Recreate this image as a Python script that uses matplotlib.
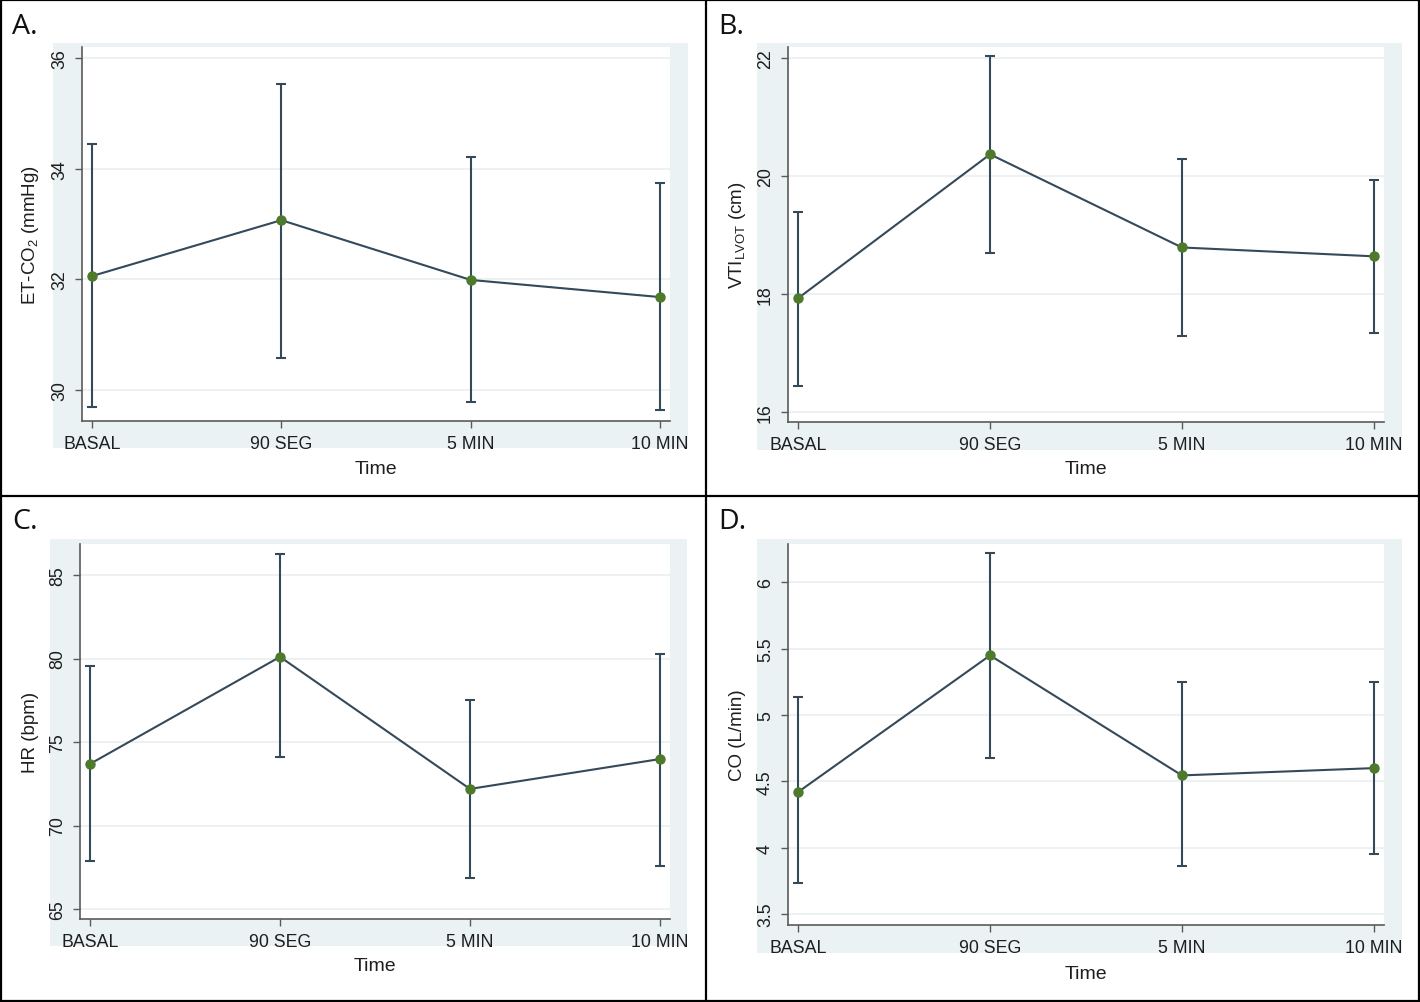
import matplotlib
matplotlib.use("Agg")
import matplotlib.pyplot as plt
from matplotlib.patches import Rectangle
from matplotlib.lines import Line2D

plt.rcParams['font.family'] = ['Liberation Sans', 'DejaVu Sans']
plt.rcParams['mathtext.default'] = 'regular'

# ---------------- data ----------------
times = ["BASAL", "90 SEG", "5 MIN", "10 MIN"]

etco2_mean = [32.06, 33.07, 31.99, 31.68]
etco2_upper = [34.44, 35.53, 34.21, 33.74]
etco2_lower = [29.69, 30.58, 29.78, 29.63]

vti_mean = [17.93, 20.37, 18.79, 18.64]
vti_upper = [19.39, 22.03, 20.29, 19.93]
vti_lower = [16.44, 18.69, 17.29, 17.34]

hr_mean = [73.69, 80.10, 72.19, 73.98]
hr_upper = [79.58, 86.26, 77.50, 80.30]
hr_lower = [67.85, 74.10, 66.83, 67.59]

co_mean = [4.42, 5.45, 4.545, 4.60]
co_upper = [5.14, 6.22, 5.25, 5.25]
co_lower = [3.73, 4.68, 3.86, 3.955]

panel_labels = ["A.", "B.", "C.", "D."]
ylabels = ["ET-CO$_2$ (mmHg)", "VTI$_{LVOT}$ (cm)", "HR (bpm)", "CO (L/min)"]
yticks_list = [[30, 32, 34, 36], [16, 18, 20, 22], [65, 70, 75, 80, 85],
               [3.5, 4, 4.5, 5, 5.5, 6]]
ytick_text = [["30", "32", "34", "36"], ["16", "18", "20", "22"],
              ["65", "70", "75", "80", "85"], ["3.5", "4", "4.5", "5", "5.5", "6"]]
ylims = [(29.44, 36.2), (15.83, 22.19), (64.4, 86.86), (3.417, 6.29)]

means = [etco2_mean, vti_mean, hr_mean, co_mean]
uppers = [etco2_upper, vti_upper, hr_upper, co_upper]
lowers = [etco2_lower, vti_lower, hr_lower, co_lower]

# ---------------- layout (pixels) ----------------
W, H = 1420, 1003
fig = plt.figure(figsize=(W / 100, H / 100), dpi=100)

def fbox(x0, y0, x1, y1):
    return [x0 / W, 1 - y1 / H, (x1 - x0) / W, (y1 - y0) / H]

plot_boxes = [(82, 48, 670, 422), (788, 48, 1384, 423),
              (80, 545, 670, 920), (788, 545, 1384, 926)]
graph_boxes = [(53, 44, 688, 449), (757, 44, 1402, 451),
               (50, 540, 687, 947), (757, 540, 1402, 954)]
label_pos = [(12, 27), (718, 27), (12, 522), (718, 522)]
ylab_x = [31, 737, 31, 737]
xlab_y = [469, 470, 967, 975]

BG = "#EAF2F3"
LINE = "#34495A"
MARK = "#4E7A2C"
AX = "#5A5A5A"
GRID = "#EAEFF0"

for i in range(4):
    gx0, gy0, gx1, gy1 = graph_boxes[i]
    fig.add_artist(Rectangle((gx0 / W, 1 - gy1 / H), (gx1 - gx0) / W, (gy1 - gy0) / H,
                             transform=fig.transFigure, facecolor=BG,
                             edgecolor='none', zorder=-5))
    ax = fig.add_axes(fbox(*plot_boxes[i]))
    ax.set_zorder(1)
    ax.set_facecolor('white')
    x = list(range(1, len(times) + 1))
    m, u, l = means[i], uppers[i], lowers[i]
    yerr = [[mm - ll for mm, ll in zip(m, l)], [uu - mm for mm, uu in zip(m, u)]]
    ax.errorbar(x, m, yerr=yerr, fmt='none', ecolor=LINE, elinewidth=1.5,
                capsize=3.8, capthick=1.5, zorder=2)
    ax.plot(x, m, color=LINE, lw=1.5, zorder=3)
    ax.plot(x, m, 'o', color=MARK, ms=6.5, zorder=4)
    ax.set_xlim(0.947, 4.053)
    ax.set_ylim(*ylims[i])
    ax.set_xticks(x)
    ax.set_xticklabels(times, fontsize=12.8)
    ax.set_yticks(yticks_list[i])
    ax.set_yticklabels(ytick_text[i], fontsize=12.8, rotation=90, va='center')
    ax.grid(axis='y', color=GRID, lw=1.2, zorder=0)
    ax.set_axisbelow(True)
    for s in ['top', 'right']:
        ax.spines[s].set_visible(False)
    for s in ['left', 'bottom']:
        ax.spines[s].set_color(AX)
        ax.spines[s].set_linewidth(1.2)
    ax.tick_params(axis='both', length=5, width=1, color=AX, labelcolor='#1E1E1E', pad=5)
    ax.set_xlabel("Time", fontsize=14, color='#1E1E1E')
    ax.set_ylabel(ylabels[i], fontsize=13.5, color='#1E1E1E')
    px0, py0, px1, py1 = plot_boxes[i]
    ax.yaxis.set_label_coords(ylab_x[i] / W, 1 - ((py0 + py1) / 2) / H,
                              transform=fig.transFigure)
    ax.xaxis.set_label_coords(((px0 + px1) / 2) / W, 1 - xlab_y[i] / H,
                              transform=fig.transFigure)
    ax.xaxis.label.set_va('center')
    ax.yaxis.label.set_va('center')
    lx, ly = label_pos[i]
    fig.text(lx / W, 1 - ly / H, panel_labels[i], fontsize=20.5, family='Open Sans',
             va='center', ha='left', color='#111111')

def hline(y, x0=0, x1=W):
    fig.add_artist(Line2D([x0 / W, x1 / W], [1 - y / H, 1 - y / H], color='black',
                          lw=1.6, transform=fig.transFigure, zorder=10))

def vline(x, y0=0, y1=H):
    fig.add_artist(Line2D([x / W, x / W], [1 - y0 / H, 1 - y1 / H], color='black',
                          lw=1.6, transform=fig.transFigure, zorder=10))

hline(1); hline(497); hline(1002)
vline(1); vline(706); vline(1419)

fig.savefig("out.png", dpi=100, facecolor='white')
